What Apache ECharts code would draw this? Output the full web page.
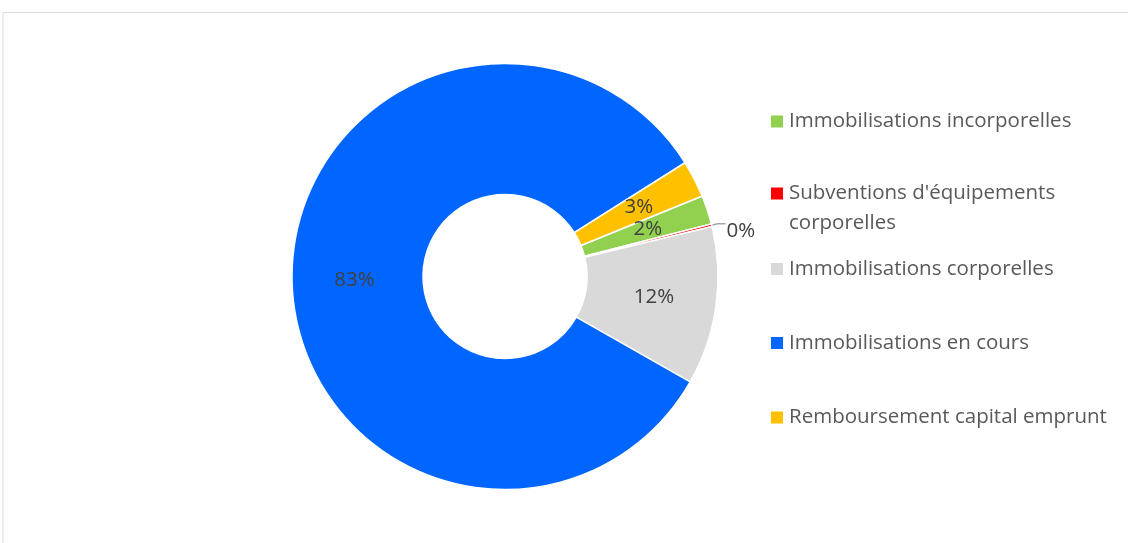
<!DOCTYPE html>
<html>
<head>
<meta charset="utf-8">
<script src="https://cdn.jsdelivr.net/npm/echarts@6/dist/echarts.min.js"></script>
<style>
html,body{margin:0;padding:0;background:#fff;}
#c{width:1128px;height:543px;}
</style>
</head>
<body>
<div id="c"></div>
<script>
const categories = [
  "Immobilisations incorporelles",
  "Subventions d'équipements corporelles",
  "Immobilisations corporelles",
  "Immobilisations en cours",
  "Remboursement capital emprunt"
];
const values = [2.2, 0.2, 12.0, 82.8, 2.8];
const colors = ["#92d050", "#ff0000", "#d9d9d9", "#0066ff", "#ffc000"];
const legendCenters = [118, 193.5, 265.5, 339.5, 414];

const FONT = "'Open Sans', sans-serif";
const chart = echarts.init(document.getElementById('c'), null, {renderer: 'canvas'});

const legends = categories.map((name, i) => {
  const multi = i === 1;
  return {
    orient: 'vertical',
    left: 769,
    top: multi ? legendCenters[i] - 45 : legendCenters[i] - 7,
    padding: 0,
    itemWidth: 14,
    itemHeight: 14,
    itemGap: 0,
    icon: 'rect',
    selectedMode: false,
    data: [name],
    formatter: multi ? "\nSubventions d'équipements\ncorporelles" : undefined,
    textStyle: {
      color: '#595959',
      fontFamily: FONT,
      fontSize: 20.5,
      lineHeight: multi ? 30 : 14
    }
  };
});

const pct = p => Math.round(p.percent) + '%';

const data = categories.map((name, i) => {
  const d = { name: name, value: values[i], itemStyle: { color: colors[i] } };
  if (i === 1) {
    d.label = { position: 'outside', distanceToLabelLine: 1, lineHeight: 14, formatter: p => '\n' + pct(p) };
    d.labelLine = { show: true, length: 6, length2: 8, lineStyle: { color: '#a6a6a6', width: 1.5 } };
  }
  return d;
});

chart.setOption({
  animation: false,
  backgroundColor: '#ffffff',
  graphic: [{
    type: 'rect',
    shape: { x: 3, y: 12.5, width: 1300, height: 700 },
    style: { fill: 'none', stroke: '#d9d9d9', lineWidth: 1 },
    silent: true
  }],
  legend: legends,
  series: [{
    type: 'pie',
    center: [505, 276.5],
    radius: [82, 213],
    startAngle: 22.2,
    clockwise: true,
    avoidLabelOverlap: false,
    itemStyle: { borderColor: '#ffffff', borderWidth: 1.5 },
    label: {
      show: true,
      position: 'inside',
      color: '#404040',
      fontFamily: FONT,
      fontSize: 20.5,
      formatter: pct
    },
    labelLine: { show: false },
    emphasis: { disabled: true },
    data: data
  }]
});
</script>
</body>
</html>
